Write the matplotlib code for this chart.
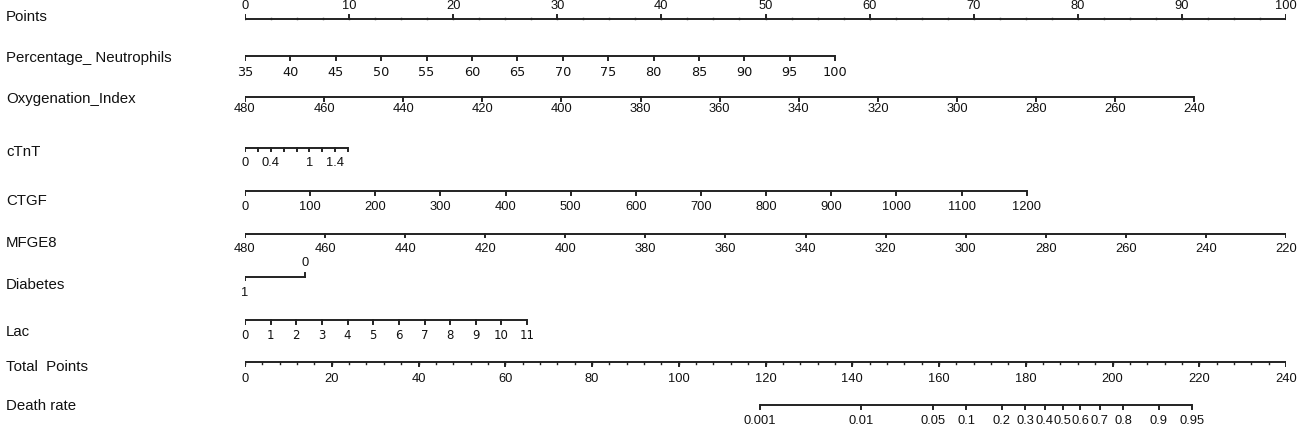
import matplotlib
matplotlib.use('Agg')
import matplotlib.pyplot as plt
import numpy as np
from matplotlib.transforms import blended_transform_factory

# ---------------- data ----------------
points_major = [0, 10, 20, 30, 40, 50, 60, 70, 80, 90, 100]
points_minor_step = 2.5

neut_ticks = [35, 40, 45, 50, 55, 60, 65, 70, 75, 80, 85, 90, 95, 100]
neut_map = ((35, 0.0), (100, 56.7))           # (value, points) at both ends

oxy_ticks = [480, 460, 440, 420, 400, 380, 360, 340, 320, 300, 280, 260, 240]
oxy_map = ((480, 0.0), (240, 91.2))

ctnt_ticks = [0, 0.2, 0.4, 0.6, 0.8, 1.0, 1.2, 1.4, 1.6]
ctnt_labels = {0: '0', 0.4: '0.4', 1.0: '1', 1.4: '1.4'}
ctnt_map = ((0, 0.0), (1.6, 9.9))

ctgf_ticks = [0, 100, 200, 300, 400, 500, 600, 700, 800, 900, 1000, 1100, 1200]
ctgf_map = ((0, 0.0), (1200, 75.1))

mfge8_ticks = [480, 460, 440, 420, 400, 380, 360, 340, 320, 300, 280, 260, 240, 220]
mfge8_map = ((480, 0.0), (220, 100.0))

diab_values = [0, 1]
diab_points = [5.8, 0.0]

lac_ticks = [0, 1, 2, 3, 4, 5, 6, 7, 8, 9, 10, 11]
lac_map = ((0, 0.0), (11, 27.1))

total_major = [0, 20, 40, 60, 80, 100, 120, 140, 160, 180, 200, 220, 240]
total_minor_step = 4
total_max = 240

death_ticks = [0.001, 0.01, 0.05, 0.1, 0.2, 0.3, 0.4, 0.5, 0.6, 0.7, 0.8, 0.9, 0.95]
death_labels = ['0.001', '0.01', '0.05', '0.1', '0.2', '0.3', '0.4', '0.5', '0.6',
                '0.7', '0.8', '0.9', '0.95']
death_intercept = 188.5   # total points where risk = 0.5
death_slope = 10.11       # total points per logit unit

names = ['Points', 'Percentage_ Neutrophils', 'Oxygenation_Index', 'cTnT', 'CTGF',
         'MFGE8', 'Diabetes', 'Lac', 'Total  Points', 'Death rate']

# ---------------- layout ----------------
W, H = 1299, 429
fig = plt.figure(figsize=(W / 100, H / 100), dpi=100)
X0, X1 = 245, 1286
ax = fig.add_axes([X0 / W, 0, (X1 - X0) / W, 1])
ax.set_xlim(0, 100)
ax.set_ylim(H, 0)
ax.axis('off')

LC = '#222222'
TC = '#111111'
LW = 1.4
FONT = 'Liberation Sans'
TFS = 9.3
NFS = 10.8

name_y = [17.3, 58.3, 99, 152.3, 201, 242.7, 285, 331.7, 367.3, 406]
tr = blended_transform_factory(fig.transFigure, ax.transData)
for nm, y in zip(names, name_y):
    ax.text(6 / W, y, nm, transform=tr, ha='left', va='center',
            fontsize=NFS, family=FONT, color=TC)


def lin(v, m):
    (v0, p0), (v1, p1) = m
    return p0 + (np.asarray(v, float) - v0) / (v1 - v0) * (p1 - p0)


def draw_axis(xs, y, labels, ly, tick=3.5, fs=TFS, family=FONT, ticks_up=False):
    xs = np.asarray(xs, float)
    ax.plot([xs.min(), xs.max()], [y, y], color=LC, lw=LW, solid_capstyle='butt')
    d = -tick if ticks_up else tick
    for x in xs:
        ax.plot([x, x], [y, y + d], color=LC, lw=LW)
    for x, lab in labels:
        ax.text(x, ly, lab, ha='center', va='center', fontsize=fs,
                family=family, color=TC)


# Points
ypts = 19.3
ax.plot([0, 100], [ypts, ypts], color=LC, lw=LW)
for v in np.arange(0, 100 + 1e-9, points_minor_step):
    ax.plot([v, v], [ypts, ypts - 1.5], color=LC, lw=1.0)
for v in points_major:
    ax.plot([v, v], [ypts, ypts - 4], color=LC, lw=LW)
    ax.text(v, 6, str(v), ha='center', va='center', fontsize=TFS, family=FONT, color=TC)

# Percentage Neutrophils
xs = lin(neut_ticks, neut_map)
draw_axis(xs, 56, [(x, str(v)) for x, v in zip(xs, neut_ticks)], 72.5,
          fs=9.3, family='DejaVu Sans')

# Oxygenation index
xs = lin(oxy_ticks, oxy_map)
draw_axis(xs, 97, [(x, str(v)) for x, v in zip(xs, oxy_ticks)], 109)

# cTnT
xs = lin(ctnt_ticks, ctnt_map)
labs = [(lin(v, ctnt_map), s) for v, s in ctnt_labels.items()]
draw_axis(xs, 148, labs, 163.5, tick=3)

# CTGF
xs = lin(ctgf_ticks, ctgf_map)
draw_axis(xs, 191, [(x, str(v)) for x, v in zip(xs, ctgf_ticks)], 207)

# MFGE8
xs = lin(mfge8_ticks, mfge8_map)
draw_axis(xs, 233.7, [(x, str(v)) for x, v in zip(xs, mfge8_ticks)], 249.5)

# Diabetes
yd = 276.7
ax.plot([min(diab_points), max(diab_points)], [yd, yd], color=LC, lw=LW)
for v, p in zip(diab_values, diab_points):
    if p > 0:
        ax.plot([p, p], [yd, yd - 3.5], color=LC, lw=LW)
        ax.text(p, 262.7, str(v), ha='center', va='center', fontsize=TFS, family=FONT, color=TC)
    else:
        ax.plot([p, p], [yd, yd + 3.5], color=LC, lw=LW)
        ax.text(p, 292.7, str(v), ha='center', va='center', fontsize=TFS, family=FONT, color=TC)

# Lac
xs = lin(lac_ticks, lac_map)
draw_axis(xs, 320, [(x, str(v)) for x, v in zip(xs, lac_ticks)], 335.5,
          fs=8.5, family='DejaVu Sans')

# Total points
yt = 362.3
sc = 100.0 / total_max
ax.plot([0, 100], [yt, yt], color=LC, lw=LW)
for v in np.arange(0, total_max + 1e-9, total_minor_step):
    ax.plot([v * sc, v * sc], [yt, yt + 1.8], color=LC, lw=1.0)
for v in total_major:
    ax.plot([v * sc, v * sc], [yt, yt + 3.5], color=LC, lw=LW)
    ax.text(v * sc, 378.5, str(v), ha='center', va='center', fontsize=TFS, family=FONT, color=TC)

# Death rate
p = np.asarray(death_ticks)
tp = death_intercept + death_slope * np.log(p / (1 - p))
xs = tp * sc
draw_axis(xs, 405, list(zip(xs, death_labels)), 421)

fig.savefig('out.png', dpi=100, facecolor='white')
